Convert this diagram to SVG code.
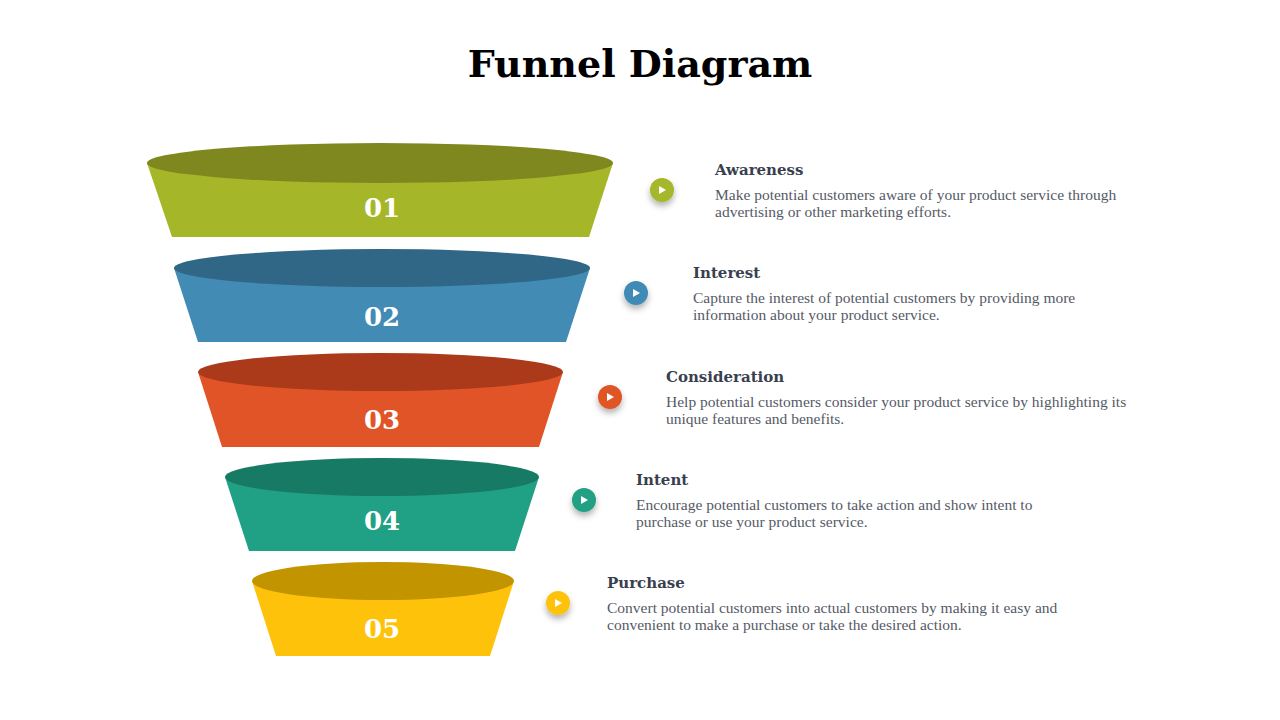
<svg xmlns="http://www.w3.org/2000/svg" width="1280" height="720" viewBox="0 0 1280 720">
<defs>
<filter id="sh" x="-1" y="-1" width="3" height="3"><feDropShadow dx="0" dy="4" stdDeviation="3" flood-color="#000" flood-opacity="0.3"/></filter>
<style>
.t{font-family:"DejaVu Serif","Liberation Serif",serif}
.num{font-family:"DejaVu Serif",serif;font-weight:bold;font-size:26px;fill:#fff;text-anchor:middle}
.h{font-family:"DejaVu Serif",serif;font-weight:bold;font-size:15px;fill:#3a3f4f}
.d{font-family:"Liberation Serif",serif;font-size:15.5px;fill:#555a66}
.play{fill:#fff}
</style>
</defs>
<rect width="1280" height="720" fill="#fff"/>
<text x="640" y="77" text-anchor="middle" class="t" font-weight="bold" font-size="38" fill="#000">Funnel Diagram</text>
<g id="layer1"><path d="M147 163 L613 163 L589 237 L172 237 Z" fill="#a5b729"/><ellipse cx="380" cy="163" rx="233" ry="20" fill="#7e881e"/><text x="382" y="217" class="num">01</text></g>
<g id="layer2"><path d="M174 268 L590 268 L566 342 L198 342 Z" fill="#418bb5"/><ellipse cx="382" cy="268" rx="208" ry="19" fill="#306786"/><text x="382" y="326" class="num">02</text></g>
<g id="layer3"><path d="M198 372 L563 372 L539 447 L222 447 Z" fill="#e05427"/><ellipse cx="380.5" cy="372" rx="182.5" ry="19" fill="#aa3a1a"/><text x="382" y="429" class="num">03</text></g>
<g id="layer4"><path d="M225 477 L539 477 L515 551 L249 551 Z" fill="#20a084"/><ellipse cx="382" cy="477" rx="157" ry="19" fill="#177a64"/><text x="382" y="530" class="num">04</text></g>
<g id="layer5"><path d="M252 581 L514 581 L490 656 L276 656 Z" fill="#fec20a"/><ellipse cx="383" cy="581" rx="131" ry="19" fill="#c19400"/><text x="382" y="638" class="num">05</text></g>
<g id="markers">
<circle cx="662" cy="190" r="12" fill="#a5b729" filter="url(#sh)"/><path d="M659 186 L666 190 L659 194 Z" class="play"/>
<circle cx="636" cy="293" r="12" fill="#418bb5" filter="url(#sh)"/><path d="M633 289 L640 293 L633 297 Z" class="play"/>
<circle cx="610" cy="397" r="12" fill="#e05427" filter="url(#sh)"/><path d="M607 393 L614 397 L607 401 Z" class="play"/>
<circle cx="584" cy="500" r="12" fill="#20a084" filter="url(#sh)"/><path d="M581 496 L588 500 L581 504 Z" class="play"/>
<circle cx="558" cy="603" r="12" fill="#fec20a" filter="url(#sh)"/><path d="M555 599 L562 603 L555 607 Z" class="play"/>
</g>
<g id="text1"><text x="715" y="175" class="h">Awareness</text><text x="715" y="200" class="d">Make potential customers aware of your product service through</text><text x="715" y="217" class="d">advertising or other marketing efforts.</text></g>
<g id="text2"><text x="693" y="278" class="h">Interest</text><text x="693" y="303" class="d">Capture the interest of potential customers by providing more</text><text x="693" y="320" class="d">information about your product service.</text></g>
<g id="text3"><text x="666" y="382" class="h">Consideration</text><text x="666" y="407" class="d">Help potential customers consider your product service by highlighting its</text><text x="666" y="424" class="d">unique features and benefits.</text></g>
<g id="text4"><text x="636" y="485" class="h">Intent</text><text x="636" y="510" class="d">Encourage potential customers to take action and show intent to</text><text x="636" y="527" class="d">purchase or use your product service.</text></g>
<g id="text5"><text x="607" y="588" class="h">Purchase</text><text x="607" y="613" class="d">Convert potential customers into actual customers by making it easy and</text><text x="607" y="630" class="d">convenient to make a purchase or take the desired action.</text></g>
</svg>
